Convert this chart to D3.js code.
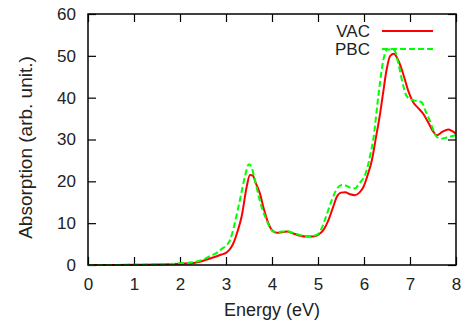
<!DOCTYPE html>
<html>
<head>
<meta charset="utf-8">
<script src="https://cdn.jsdelivr.net/npm/d3@7"></script>
<style>
  body { margin: 0; background: #fff; }
  svg { display: block; font-family: "Liberation Sans", Arial, sans-serif; }
</style>
</head>
<body>
<div id="chart"></div>
<script>
// energy (eV) and absorption
const vacE = [0, 0.5, 1.0, 1.5, 2.0, 2.3, 2.5, 2.72, 2.9, 3.0, 3.1, 3.16, 3.25, 3.34, 3.45, 3.52, 3.58, 3.65, 3.74, 3.82, 3.92, 4.0, 4.1, 4.2, 4.32, 4.45, 4.61, 4.75, 4.9, 5.0, 5.12, 5.23, 5.33, 5.41, 5.5, 5.59, 5.7, 5.8, 5.9, 5.99, 6.08, 6.17, 6.26, 6.35, 6.42, 6.49, 6.57, 6.65, 6.72, 6.78, 6.87, 6.96, 7.07, 7.18, 7.29, 7.4, 7.5, 7.58, 7.7, 7.83, 7.92, 8.0];
const vacA = [0, 0, 0.05, 0.1, 0.3, 0.5, 1.0, 1.8, 2.5, 2.9, 4.0, 5.2, 8.0, 11.6, 18.7, 21.5, 21.4, 19.5, 17.0, 13.5, 10.0, 8.3, 7.7, 7.8, 8.0, 7.6, 7.0, 6.8, 6.8, 7.2, 8.4, 10.8, 13.9, 16.3, 17.3, 17.4, 16.9, 16.7, 17.3, 18.7, 21.5, 25.0, 30.5, 36.2, 41.5, 46.6, 50.0, 50.5, 49.5, 48.0, 45.0, 41.7, 38.9, 37.5, 36.1, 34.0, 32.0, 31.0, 31.8, 32.4, 32.0, 31.4];

const pbcE = [0, 0.5, 1.0, 1.5, 2.0, 2.3, 2.5, 2.65, 2.8, 2.9, 3.0, 3.09, 3.18, 3.27, 3.34, 3.41, 3.5, 3.55, 3.63, 3.72, 3.8, 3.88, 3.95, 4.03, 4.15, 4.3, 4.45, 4.6, 4.75, 4.85, 5.0, 5.08, 5.15, 5.3, 5.4, 5.51, 5.6, 5.7, 5.8, 5.9, 6.06, 6.13, 6.2, 6.31, 6.42, 6.5, 6.6, 6.67, 6.75, 6.85, 6.92, 7.0, 7.1, 7.25, 7.35, 7.43, 7.5, 7.58, 7.69, 7.8, 7.9, 8.0];
const pbcA = [0, 0, 0.05, 0.15, 0.4, 0.7, 1.3, 2.1, 2.9, 3.8, 4.6, 6.0, 9.5, 13.9, 17.5, 21.1, 24.1, 23.5, 20.3, 16.0, 13.0, 10.8, 9.0, 8.0, 7.9, 8.1, 7.7, 7.2, 6.9, 6.9, 7.4, 8.8, 10.8, 15.5, 18.0, 19.1, 19.0, 18.5, 18.3, 19.5, 22.7, 26.0, 29.9, 40.2, 49.0, 51.5, 51.6, 51.2, 48.0, 43.0, 40.5, 39.7, 39.3, 38.9, 36.5, 34.5, 32.5, 30.6, 30.2, 30.5, 30.8, 31.0];

const xTicks = [0, 1, 2, 3, 4, 5, 6, 7, 8];
const yTicks = [0, 10, 20, 30, 40, 50, 60];

const series = [
  {name: 'VAC', e: vacE, a: vacA, color: '#ff0000', dash: null},
  {name: 'PBC', e: pbcE, a: pbcA, color: '#00ff00', dash: '6,3'}
];

const width = 465, height = 321;
const margin = {top: 14, right: 9, bottom: 56, left: 88};
const w = width - margin.left - margin.right;
const h = height - margin.top - margin.bottom;

const svg = d3.select('#chart').append('svg')
  .attr('width', width)
  .attr('height', height);
const g = svg.append('g')
  .attr('transform', `translate(${margin.left},${margin.top})`);

const x = d3.scaleLinear().domain([0, 8]).range([0, w]);
const y = d3.scaleLinear().domain([0, 60]).range([h, 0]);

// ticks go inwards on all four sides (gnuplot mirror)
const tl = 8;
g.append('g')
  .attr('transform', `translate(0,${h})`)
  .call(d3.axisBottom(x).tickValues(xTicks).tickSize(-tl).tickPadding(13).tickFormat(d3.format('d')))
  .call(a => a.select('.domain').remove());
g.append('g')
  .call(d3.axisTop(x).tickValues(xTicks).tickSize(-tl).tickFormat(''))
  .call(a => a.select('.domain').remove());
g.append('g')
  .call(d3.axisLeft(y).tickValues(yTicks).tickSize(-tl).tickPadding(12).tickFormat(d3.format('d')))
  .call(a => a.select('.domain').remove());
g.append('g')
  .attr('transform', `translate(${w},0)`)
  .call(d3.axisRight(y).tickValues(yTicks).tickSize(-tl).tickFormat(''))
  .call(a => a.select('.domain').remove());

g.selectAll('.tick line').attr('stroke', '#000').attr('stroke-width', 1.2);
g.selectAll('.tick text').attr('font-size', '17px').attr('fill', '#222')
  .attr('font-family', '"Liberation Sans", Arial, sans-serif');

// curves
const line = d3.line()
  .x(d => x(d[0]))
  .y(d => y(d[1]))
  .curve(d3.curveMonotoneX);

series.forEach(s => {
  g.append('path')
    .datum(s.e.map((v, i) => [v, s.a[i]]))
    .attr('fill', 'none')
    .attr('stroke', s.color)
    .attr('stroke-width', 2)
    .attr('stroke-dasharray', s.dash)
    .attr('d', line);
});

// border
g.append('rect')
  .attr('width', w)
  .attr('height', h)
  .attr('fill', 'none')
  .attr('stroke', '#000')
  .attr('stroke-width', 1.5);

// legend
const leg = g.selectAll('.leg')
  .data(series)
  .join('g')
  .attr('transform', (d, i) => `translate(0,${17 + i * 18})`);
leg.append('text')
  .attr('x', 282)
  .attr('dy', '0.35em')
  .attr('text-anchor', 'end')
  .attr('font-size', '17px')
  .attr('fill', '#222')
  .text(d => d.name);
leg.append('line')
  .attr('x1', 294)
  .attr('x2', 345)
  .attr('stroke', d => d.color)
  .attr('stroke-width', 2)
  .attr('stroke-dasharray', d => d.dash);

// axis titles
svg.append('text')
  .attr('x', margin.left + w / 2)
  .attr('y', 316)
  .attr('text-anchor', 'middle')
  .attr('font-size', '18px')
  .attr('fill', '#222')
  .text('Energy (eV)');

svg.append('text')
  .attr('transform', `translate(32,${margin.top + h / 2 + 8}) rotate(-90)`)
  .attr('text-anchor', 'middle')
  .attr('font-size', '19px')
  .attr('fill', '#222')
  .text('Absorption (arb. unit.)');
</script>
</body>
</html>
